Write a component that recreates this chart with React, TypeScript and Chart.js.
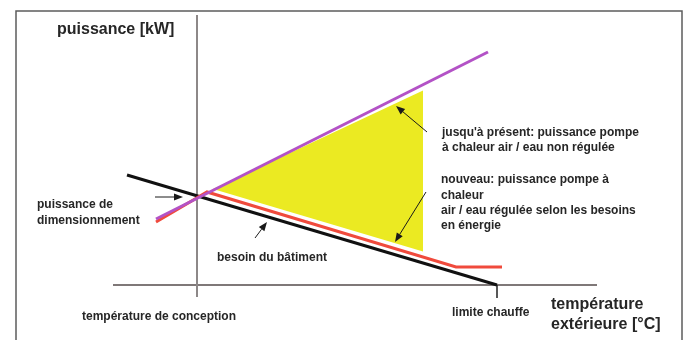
import React, { useEffect, useRef } from "react";
import { Chart, registerables } from "chart.js";

Chart.register(...registerables);

// ---- data (x: outdoor temperature [°C], y: power [kW]) ----
const designTemperature = -10;
const heatingLimit = 20;

const buildingNeedX = [-17, 20];
const buildingNeedY = [11, 0];

const unregulatedX = [-14.1, 19.1];
const unregulatedY = [6.6, 23.3];

const regulatedX = [-14.1, -9.0, 15.9, 20.5];
const regulatedY = [6.3, 9.3, 1.8, 1.8];

const gainTopX = [-8.4, 12.6];
const gainTopY = [9.6, 19.45];
const gainBottomX = [-8.4, 12.6];
const gainBottomY = [9.6, 3.35];

const yAxisX = [designTemperature, designTemperature];
const yAxisY = [27, -1.2];
const xAxisX = [-18.4, 30];
const xAxisY = [0, 0];
const limitTickX = [heatingLimit, heatingLimit];
const limitTickY = [0, -1.3];

// ---- texts ----
const yTitle = ["puissance [kW]"];
const xTitle = ["température", "extérieure [°C]"];
const unregulatedLabel = ["jusqu'à présent: puissance pompe", "à chaleur air / eau non régulée"];
const regulatedLabel = ["nouveau: puissance pompe à", "chaleur", "air / eau régulée selon les besoins", "en énergie"];
const sizingLabel = ["puissance de", "dimensionnement"];
const needLabel = ["besoin du bâtiment"];
const designLabel = ["température de conception"];
const limitLabel = ["limite chauffe"];

const pts = (xs: number[], ys: number[]) => xs.map((x, i) => ({ x, y: ys[i] }));

const TEXT = "#262626";
const SMALL = "bold 12px 'Liberation Sans', Arial, sans-serif";
const BIG = "bold 16px 'Liberation Sans', Arial, sans-serif";

const annotationPlugin = {
  id: "annotations",
  afterDatasetsDraw(chart: any) {
    const { ctx } = chart;
    const sx = chart.scales.x;
    const sy = chart.scales.y;
    const px = (v: number) => sx.getPixelForValue(v);
    const py = (v: number) => sy.getPixelForValue(v);

    ctx.save();
    // frame of the figure
    ctx.strokeStyle = "#5c5c5c";
    ctx.lineWidth = 1.5;
    ctx.beginPath();
    ctx.moveTo(16, 340);
    ctx.lineTo(16, 11);
    ctx.lineTo(682, 11);
    ctx.lineTo(682, 340);
    ctx.stroke();

    // arrows [fromX, fromY, toX, toY]
    const arrows = [
      [13.0, 15.3, 9.9, 17.9],
      [12.9, 9.3, 9.8, 4.3],
      [-14.2, 8.8, -11.4, 8.8],
      [-4.2, 4.7, -3.0, 6.3],
    ];
    ctx.strokeStyle = "#1a1a1a";
    ctx.fillStyle = "#1a1a1a";
    ctx.lineWidth = 1;
    arrows.forEach(([x1, y1, x2, y2]) => {
      const a = { x: px(x1), y: py(y1) };
      const b = { x: px(x2), y: py(y2) };
      const ang = Math.atan2(b.y - a.y, b.x - a.x);
      const len = 9;
      const w = 3.5;
      const bx = b.x - Math.cos(ang) * len;
      const by = b.y - Math.sin(ang) * len;
      ctx.beginPath();
      ctx.moveTo(a.x, a.y);
      ctx.lineTo(bx, by);
      ctx.stroke();
      ctx.beginPath();
      ctx.moveTo(b.x, b.y);
      ctx.lineTo(bx + Math.sin(ang) * w, by - Math.cos(ang) * w);
      ctx.lineTo(bx - Math.sin(ang) * w, by + Math.cos(ang) * w);
      ctx.closePath();
      ctx.fill();
    });

    // texts
    ctx.fillStyle = TEXT;
    ctx.textAlign = "left";
    ctx.textBaseline = "middle";
    const block = (lines: string[], x: number, y: number, step: number, font: string) => {
      ctx.font = font;
      lines.forEach((t, i) => ctx.fillText(t, px(x), py(y) + i * step));
    };
    block(yTitle, -24.0, 25.5, 0, BIG);
    block(xTitle, 25.4, -2.0, 20, BIG);
    block(unregulatedLabel, 14.5, 15.2, 15, SMALL);
    block(regulatedLabel, 14.4, 10.5, 15.2, SMALL);
    block(sizingLabel, -26.0, 8.0, 16, SMALL);
    block(needLabel, -8.0, 2.7, 0, SMALL);
    block(designLabel, -21.5, -3.2, 0, SMALL);
    block(limitLabel, 15.5, -2.8, 0, SMALL);
    ctx.restore();
  },
};

export default function App() {
  const ref = useRef<HTMLCanvasElement>(null);

  useEffect(() => {
    if (!ref.current) return;
    const line = (data: any, color: string, width: number, order: number) => ({
      data,
      borderColor: color,
      borderWidth: width,
      pointRadius: 0,
      fill: false,
      order,
      tension: 0,
    });
    const chart = new Chart(ref.current, {
      type: "line",
      data: {
        datasets: [
          {
            data: pts(gainTopX, gainTopY),
            borderColor: "rgba(0,0,0,0)",
            borderWidth: 0,
            backgroundColor: "#ebea22",
            pointRadius: 0,
            fill: 1,
            order: 10,
          },
          {
            data: pts(gainBottomX, gainBottomY),
            borderColor: "rgba(0,0,0,0)",
            borderWidth: 0,
            pointRadius: 0,
            fill: false,
            order: 10,
          },
          line(pts(yAxisX, yAxisY), "#8d8888", 2, 9),
          line(pts(xAxisX, xAxisY), "#7f7878", 2, 9),
          line(pts(limitTickX, limitTickY), "#222222", 1.5, 8),
          line(pts(buildingNeedX, buildingNeedY), "#111111", 3, 5),
          line(pts(regulatedX, regulatedY), "#f04a3c", 3, 4),
          line(pts(unregulatedX, unregulatedY), "#b352c6", 3, 3),
        ] as any,
      },
      options: {
        animation: false,
        responsive: false,
        devicePixelRatio: 1,
        events: [],
        layout: { padding: 0 },
        plugins: { legend: { display: false }, tooltip: { enabled: false } },
        scales: {
          x: { type: "linear", min: -29.7, max: 39.1, display: false },
          y: { type: "linear", min: -5.5, max: 28.5, display: false },
        },
      },
      plugins: [annotationPlugin],
    });
    return () => chart.destroy();
  }, []);

  return (
    <div style={{ position: "fixed", left: 0, top: 0, width: 688, height: 340, background: "#ffffff" }}>
      <canvas ref={ref} width={688} height={340} style={{ display: "block", width: 688, height: 340 }} />
    </div>
  );
}
